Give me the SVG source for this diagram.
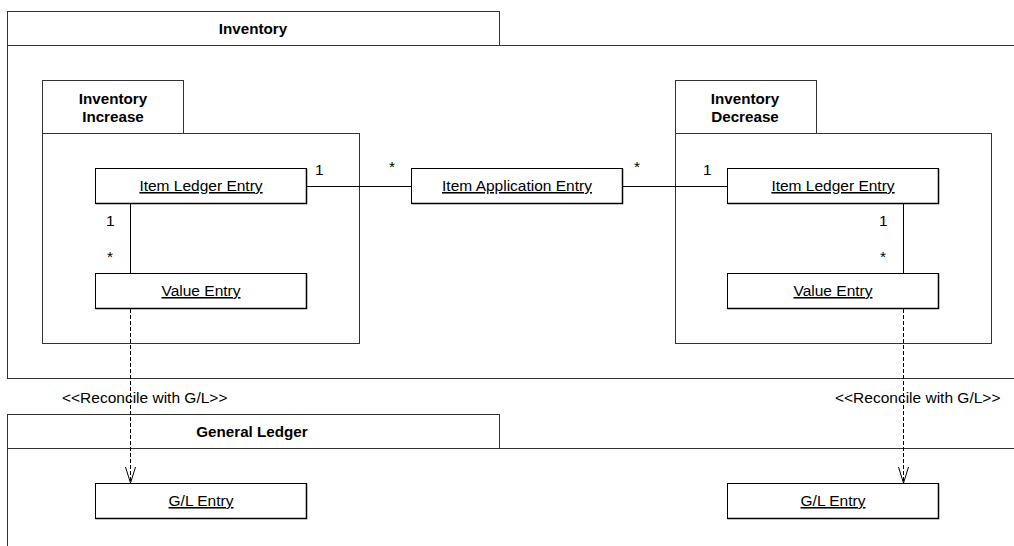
<svg xmlns="http://www.w3.org/2000/svg" width="1014" height="546" viewBox="0 0 1014 546">
<defs>
<style>
.pkg{fill:none;stroke:#333;stroke-width:1}
.cls{fill:#fff;stroke:#000;stroke-width:1}
.sh{fill:none;stroke:#000;stroke-width:1.5}
.t{font-family:"Liberation Sans",Arial,sans-serif;font-size:15.5px;fill:#000}
.b{font-weight:bold;text-anchor:middle;font-size:15.2px}
.u{text-decoration:underline;text-anchor:middle}
.ln{fill:none;stroke:#000;stroke-width:1}
.dash{fill:none;stroke:#000;stroke-width:1;stroke-dasharray:4,2}
</style>
<marker id="open" markerWidth="20" markerHeight="12" refX="18" refY="6" orient="auto" markerUnits="userSpaceOnUse" viewBox="0 0 20 12">
<path d="M2,1 L18,6 L2,11" fill="none" stroke="#000" stroke-width="1"/>
</marker>
</defs>
<rect width="1014" height="546" fill="#fff"/>

<g id="pkg-inventory">
<rect class="pkg" x="7.5" y="11.5" width="492" height="34" fill="#fff"/>
<rect class="pkg" x="7.5" y="45.5" width="1020" height="333"/>
<text class="t b" x="253" y="33.5">Inventory</text>
</g>

<g id="pkg-general-ledger">
<rect class="pkg" x="7.5" y="414.5" width="492" height="34"/>
<rect class="pkg" x="7.5" y="448.5" width="1020" height="120"/>
<text class="t b" x="252" y="436.5">General Ledger</text>
</g>

<g id="pkg-inventory-increase">
<rect class="pkg" x="42.5" y="80.5" width="141" height="53"/>
<rect class="pkg" x="42.5" y="133.5" width="317" height="210"/>
<text class="t b" x="113" y="103.5">Inventory</text>
<text class="t b" x="113" y="122">Increase</text>
</g>

<g id="pkg-inventory-decrease">
<rect class="pkg" x="675.5" y="80.5" width="141" height="53"/>
<rect class="pkg" x="675.5" y="133.5" width="316" height="210"/>
<text class="t b" x="745" y="103.5">Inventory</text>
<text class="t b" x="745" y="122">Decrease</text>
</g>

<g id="connectors">
<line class="ln" x1="306" y1="186.5" x2="411" y2="186.5"/>
<line class="ln" x1="622" y1="186.5" x2="727" y2="186.5"/>
<line class="ln" x1="130.5" y1="203" x2="130.5" y2="273"/>
<line class="ln" x1="903.5" y1="203" x2="903.5" y2="273"/>
<line class="dash" x1="130.5" y1="309" x2="130.5" y2="483" marker-end="url(#open)"/>
<line class="dash" x1="903.5" y1="309" x2="903.5" y2="483" marker-end="url(#open)"/>
<text class="t" x="315" y="175">1</text>
<text class="t" x="389" y="172">*</text>
<text class="t" x="634" y="172">*</text>
<text class="t" x="703" y="175">1</text>
<text class="t" x="106" y="226">1</text>
<text class="t" x="107" y="262">*</text>
<text class="t" x="879" y="226">1</text>
<text class="t" x="880" y="262">*</text>
<text class="t" x="62" y="402.5">&lt;&lt;Reconcile with G/L&gt;&gt;</text>
<text class="t" x="835" y="402.5">&lt;&lt;Reconcile with G/L&gt;&gt;</text>
</g>

<g id="ile-left">
<rect class="cls" x="95.5" y="168.5" width="211" height="35"/>
<path class="sh" d="M306.5,168.5 V203.5 H95.5"/>
<text class="t u" x="201" y="191">Item Ledger Entry</text>
</g>
<g id="ve-left">
<rect class="cls" x="95.5" y="273.5" width="211" height="35"/>
<path class="sh" d="M306.5,273.5 V308.5 H95.5"/>
<text class="t u" x="201" y="296">Value Entry</text>
</g>
<g id="iae">
<rect class="cls" x="411.5" y="168.5" width="211" height="35"/>
<path class="sh" d="M622.5,168.5 V203.5 H411.5"/>
<text class="t u" x="517" y="191">Item Application Entry</text>
</g>
<g id="ile-right">
<rect class="cls" x="727.5" y="168.5" width="211" height="35"/>
<path class="sh" d="M938.5,168.5 V203.5 H727.5"/>
<text class="t u" x="833" y="191">Item Ledger Entry</text>
</g>
<g id="ve-right">
<rect class="cls" x="727.5" y="273.5" width="211" height="35"/>
<path class="sh" d="M938.5,273.5 V308.5 H727.5"/>
<text class="t u" x="833" y="296">Value Entry</text>
</g>
<g id="gl-left">
<rect class="cls" x="95.5" y="483.5" width="211" height="35"/>
<path class="sh" d="M306.5,483.5 V518.5 H95.5"/>
<text class="t u" x="201" y="506">G/L Entry</text>
</g>
<g id="gl-right">
<rect class="cls" x="727.5" y="483.5" width="211" height="35"/>
<path class="sh" d="M938.5,483.5 V518.5 H727.5"/>
<text class="t u" x="833" y="506">G/L Entry</text>
</g>
</svg>
